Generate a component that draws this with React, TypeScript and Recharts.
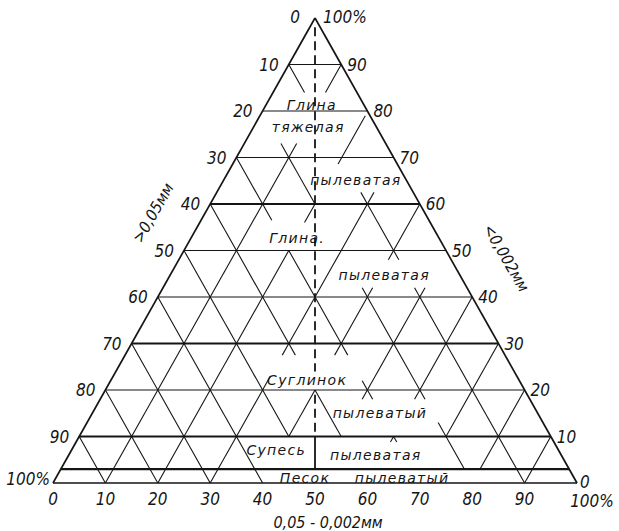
import React from "react"
import { ReferenceLine, Scatter, ScatterChart, XAxis, YAxis } from "recharts"

// page box and where the triangle sits in it
const W = 619
const H = 531
const LEFT = 53
const RIGHT = 577
const TOP = 18
const BOTTOM = 483
const X_DOMAIN = [(-LEFT / (RIGHT - LEFT)) * 100, 100 + ((W - RIGHT) / (RIGHT - LEFT)) * 100]
const Y_DOMAIN = [(-(H - BOTTOM) / (BOTTOM - TOP)) * 100, 100 + (TOP / (BOTTOM - TOP)) * 100]

const INK = "#151515"

// axis ticks
const levels = [100, 90, 80, 70, 60, 50, 40, 30, 20, 10, 0]
const leftLabels = ["0", "10", "20", "30", "40", "50", "60", "70", "80", "90", "100%"]
const rightLabels = ["100%", "90", "80", "70", "60", "50", "40", "30", "20", "10", "0"]
const bottomValues = [0, 10, 20, 30, 40, 50, 60, 70, 80, 90, 100]
const bottomLabels = ["0", "10", "20", "30", "40", "50", "60", "70", "80", "90", "100%"]

// horizontal rows of the grid
const rows = [90, 80, 70, 60, 50, 40, 30, 20, 10, 3]
const heavyRows = [60, 30, 10, 3]

// diagonal grid links [x1, h1, x2, h2]
const links = [
    [54.4, 68.6, 59.6, 79],
    [35, 70, 40, 60], [40, 60, 45, 70], [45, 70, 50, 60],
    [30, 60, 35, 50], [35, 50, 40, 60], [55, 50, 60, 60], [60, 60, 65, 50], [65, 50, 70, 60],
    [25, 50, 30, 40], [30, 40, 35, 50], [35, 50, 40, 40], [40, 40, 45, 50], [45, 50, 50, 40], [50, 40, 55, 50],
    [20, 40, 25, 30], [25, 30, 30, 40], [30, 40, 35, 30], [35, 30, 40, 40], [40, 40, 45, 30], [45, 30, 50, 40],
    [50, 40, 55, 30], [55, 30, 60, 40], [60, 40, 65, 30], [65, 30, 70, 40], [70, 40, 75, 30], [75, 30, 80, 40],
    [15, 30, 20, 20], [20, 20, 25, 30], [25, 30, 30, 20], [30, 20, 35, 30], [35, 30, 40, 20],
    [60, 20, 65, 30], [65, 30, 70, 20], [70, 20, 75, 30], [75, 30, 80, 20], [80, 20, 85, 30],
    [10, 20, 15, 10], [15, 10, 20, 20], [20, 20, 25, 10], [25, 10, 30, 20], [30, 20, 35, 10], [35, 10, 40, 20],
    [40, 20, 45, 10], [45, 10, 50, 20], [50, 20, 55, 10], [75, 10, 80, 20], [80, 20, 85, 10], [85, 10, 90, 20],
    [5, 10, 10, 0], [10, 0, 15, 10], [15, 10, 20, 0], [20, 0, 25, 10], [25, 10, 30, 0], [30, 0, 35, 10], [35, 10, 40, 0],
    [75, 10, 78.5, 3], [85, 10, 81.5, 3], [85, 10, 90, 0], [90, 0, 95, 10],
]

// short tick marks [x, h, dirX, dirY, length as part of a cell]
const stubs = [
    [45, 90, 1, -1, 0.6], [55, 90, -1, -1, 0.6],
    [45, 70, -1, 1, 0.3], [45, 70, 1, 1, 0.3],
    [40, 60, 1, -1, 0.35], [50, 60, -1, -1, 0.4],
    [60, 60, -1, 1, 0.25], [60, 60, 1, 1, 0.25],
    [65, 50, -1, -1, 0.2], [65, 50, 1, -1, 0.2],
    [60, 40, -1, 1, 0.2], [60, 40, 1, 1, 0.2], [70, 40, -1, 1, 0.2], [70, 40, 1, 1, 0.2],
    [45, 30, -1, -1, 0.25], [45, 30, 1, -1, 0.25], [55, 30, -1, -1, 0.25], [55, 30, 1, -1, 0.25],
    [40, 20, 1, 1, 0.3],
    [60, 20, -1, 1, 0.2], [60, 20, -1, -1, 0.2], [60, 20, 1, -1, 0.2],
    [70, 20, -1, -1, 0.2], [70, 20, 1, -1, 0.2],
    [75, 10, -1, 1, 0.3],
    [65, 10, -1, -1, 0.12], [65, 10, 1, -1, 0.12],
]

// soil class names
const regionNames = ["Глина", "тяжелая", "пылеватая", "Глина.", "пылеватая", "Суглинок", "пылеватый", "Супесь", "пылеватая", "Песок", "пылеватый"]
const regionAt = [[49.4, 81.3], [48.7, 76.6], [57.8, 65.2], [46.6, 52.7], [63.2, 44.7], [48.5, 22.2], [62.4, 15.1], [42.6, 7.1], [61.6, 6.0], [48.1, 1.1], [66.6, 1.1]]

const axisTitles = [">0,05мм", "<0,002мм", "0,05 - 0,002мм"]
const axisTitleAt = [[19.1, 58.1], [86.5, 48.4], [52.5, -8.6]]
const axisTitleTurn = [-60, 60, 0]

const leftTicks = levels.map((h, i) => ({ x: h / 2, y: h, text: leftLabels[i] }))
const rightTicks = levels.map((h, i) => ({ x: 100 - h / 2, y: h, text: rightLabels[i] }))
const bottomTicks = bottomValues.map((v, i) => ({ x: v, y: 0, text: bottomLabels[i] }))
const regions = regionNames.map((t, i) => ({ x: regionAt[i][0], y: regionAt[i][1], text: t }))
const titles = axisTitles.map((t, i) => ({ x: axisTitleAt[i][0], y: axisTitleAt[i][1], text: t, turn: axisTitleTurn[i] }))

const tickFont = {
    fontFamily: "'DejaVu Sans', sans-serif",
    fontStretch: "condensed",
    fontStyle: "italic",
    fontSize: 17,
    fill: INK,
}
const wordFont = {
    fontFamily: "'DejaVu Sans', sans-serif",
    fontStyle: "italic",
    fontSize: 14,
    letterSpacing: 1.3,
    fill: INK,
}

const LeftTick = (p: any) => {
    const h = p.payload.y
    const dx = h === 100 ? -15 : h === 0 ? -3 : -10
    const dy = h === 100 ? 5 : h === 0 ? 2 : 6
    return <text x={p.cx + dx} y={p.cy + dy} textAnchor="end" style={tickFont}>{p.payload.text}</text>
}

const RightTick = (p: any) => {
    const h = p.payload.y
    const dx = h === 100 ? 8 : h === 0 ? 3 : 6
    const dy = h === 100 ? 5 : h === 0 ? 5 : 6
    return <text x={p.cx + dx} y={p.cy + dy} textAnchor="start" style={tickFont}>{p.payload.text}</text>
}

const BottomTick = (p: any) => {
    const dx = p.payload.x === 100 ? 15 : 0
    const dy = p.payload.x === 100 ? 24 : 22
    return <text x={p.cx + dx} y={p.cy + dy} textAnchor="middle" style={tickFont}>{p.payload.text}</text>
}

const RegionText = (p: any) => (
    <text x={p.cx} y={p.cy} textAnchor="middle" dominantBaseline="central" style={wordFont}>{p.payload.text}</text>
)

const TitleText = (p: any) => (
    <text
        x={p.cx}
        y={p.cy}
        textAnchor="middle"
        dominantBaseline="central"
        transform={`rotate(${p.payload.turn} ${p.cx} ${p.cy})`}
        style={{ ...tickFont, fontSize: 16 }}
    >
        {p.payload.text}
    </text>
)

const seg = (x1: number, y1: number, x2: number, y2: number) => [{ x: x1, y: y1 }, { x: x2, y: y2 }]

export default function App() {
    return (
        <div style={{ position: "absolute", left: 0, top: 0, width: W, height: H, background: "#fff" }}>
            <ScatterChart width={W} height={H} margin={{ top: 0, right: 0, bottom: 0, left: 0 }}>
                <XAxis type="number" dataKey="x" domain={X_DOMAIN} allowDataOverflow hide />
                <YAxis type="number" dataKey="y" domain={Y_DOMAIN} allowDataOverflow hide />

                {rows.map((h) => (
                    <ReferenceLine
                        key={`row-${h}`}
                        segment={seg(h / 2, h, 100 - h / 2, h)}
                        stroke={INK}
                        strokeWidth={heavyRows.includes(h) ? 2.2 : 1.2}
                    />
                ))}
                {links.map((s, i) => (
                    <ReferenceLine key={`link-${i}`} segment={seg(s[0], s[1], s[2], s[3])} stroke={INK} strokeWidth={1.1} />
                ))}
                {stubs.map((s, i) => (
                    <ReferenceLine
                        key={`stub-${i}`}
                        segment={seg(s[0], s[1], s[0] + 5 * s[2] * s[4], s[1] + 10 * s[3] * s[4])}
                        stroke={INK}
                        strokeWidth={1.1}
                    />
                ))}

                {/* triangle */}
                <ReferenceLine segment={seg(0, 0, 50, 100)} stroke={INK} strokeWidth={1.7} />
                <ReferenceLine segment={seg(50, 100, 100, 0)} stroke={INK} strokeWidth={1.7} />
                <ReferenceLine segment={seg(0, 0, 100, 0)} stroke={INK} strokeWidth={1.7} />

                {/* 50% divider */}
                <ReferenceLine segment={seg(50, 98, 50, 24)} stroke={INK} strokeWidth={1.8} strokeDasharray="9 5" />
                <ReferenceLine segment={seg(50, 19, 50, 10)} stroke={INK} strokeWidth={1.8} strokeDasharray="9 5" />
                <ReferenceLine segment={seg(50, 10, 50, 3)} stroke={INK} strokeWidth={1.8} />

                <Scatter data={leftTicks} shape={LeftTick} isAnimationActive={false} />
                <Scatter data={rightTicks} shape={RightTick} isAnimationActive={false} />
                <Scatter data={bottomTicks} shape={BottomTick} isAnimationActive={false} />
                <Scatter data={regions} shape={RegionText} isAnimationActive={false} />
                <Scatter data={titles} shape={TitleText} isAnimationActive={false} />
            </ScatterChart>
        </div>
    )
}
